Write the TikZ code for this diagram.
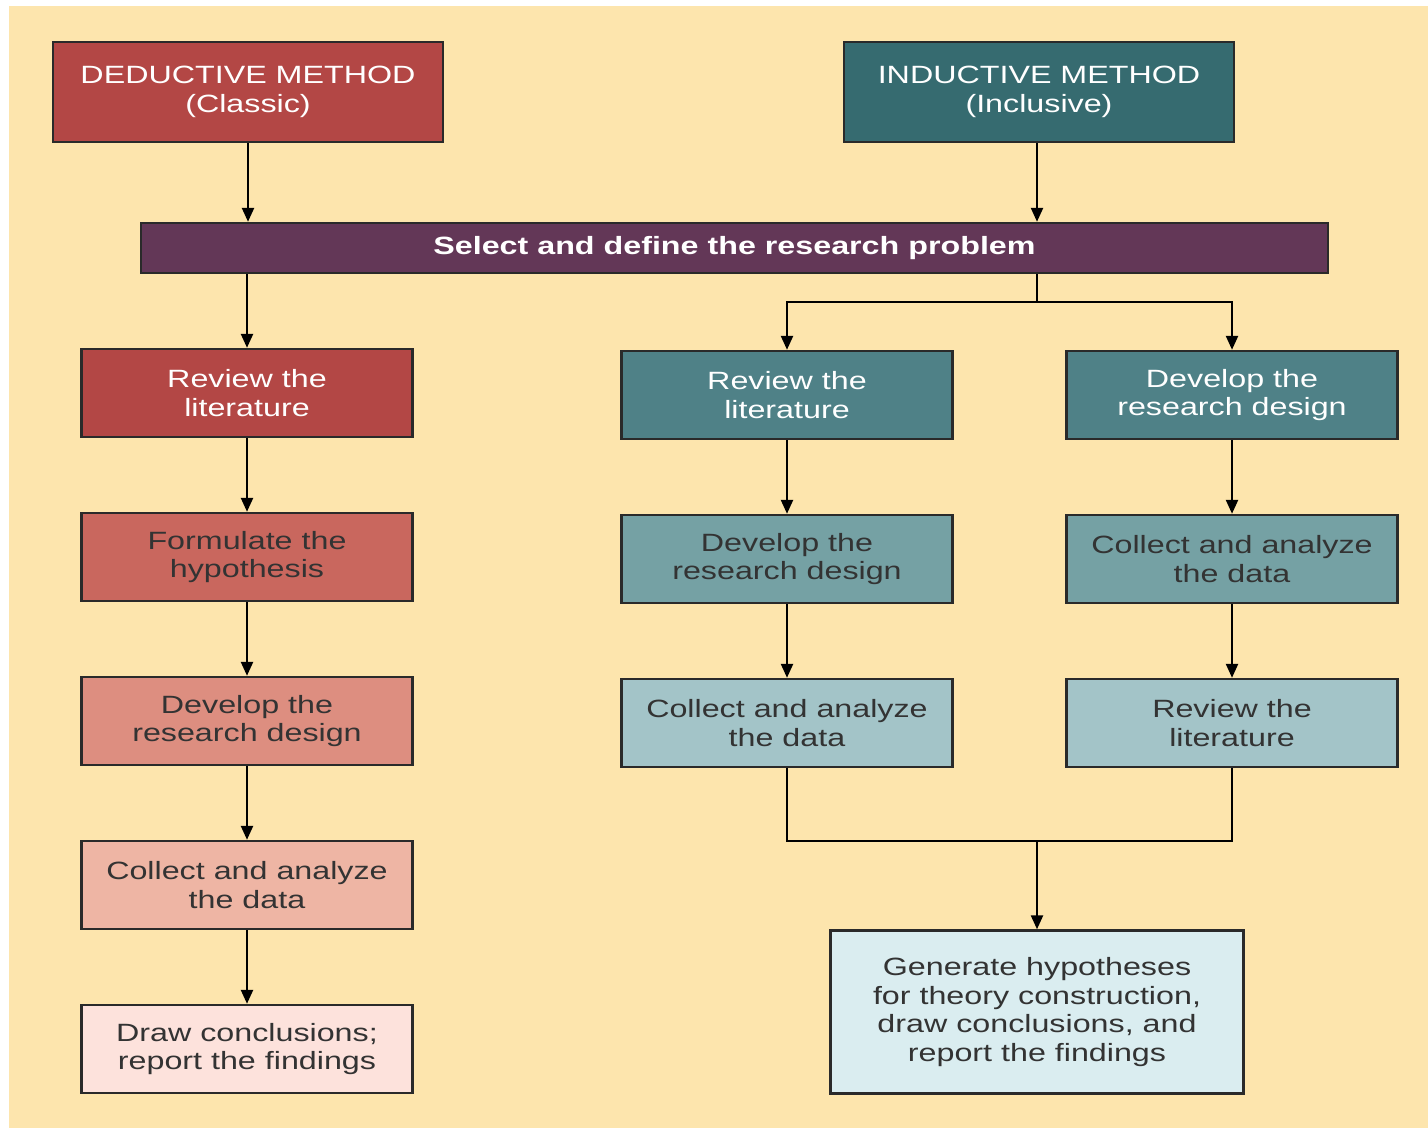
\documentclass[tikz,border=0pt]{standalone}
\usepackage{fontspec}
\setmainfont{Liberation Sans}[FakeStretch=1.29]
\usetikzlibrary{arrows.meta}

\definecolor{paper}{HTML}{FDE5AD}
\definecolor{boxline}{HTML}{2A2A2A}
\definecolor{darktext}{HTML}{333333}
\definecolor{problem}{HTML}{633757}
\definecolor{redA}{HTML}{B34745}
\definecolor{redB}{HTML}{C9675E}
\definecolor{redC}{HTML}{DD8E80}
\definecolor{redD}{HTML}{EEB5A4}
\definecolor{redE}{HTML}{FDE2DC}
\definecolor{tealA}{HTML}{366B70}
\definecolor{tealB}{HTML}{4F8187}
\definecolor{tealC}{HTML}{75A1A4}
\definecolor{tealD}{HTML}{A3C4C8}
\definecolor{tealE}{HTML}{DAEDF0}

\begin{document}
\begin{tikzpicture}[
		x=0.5pt,
		y=-0.5pt,
		every node/.style={
			shape=rectangle,
			draw=boxline,
			line width=1.2pt,
			align=center,
			inner sep=0pt,
			text=darktext,
			font=\fontsize{12.5}{14.4}\selectfont,
		},
		headbox/.style={minimum width=195pt, minimum height=50pt, text=white},
		stepbox/.style={minimum width=165.5pt, minimum height=44pt},
		link/.style={line width=1.2pt, draw=black, -{Triangle[length=7pt,width=6pt]}},
		wire/.style={line width=1.2pt, draw=black},
	]
		% page
		\fill[white] (0,0) rectangle (1428,1128);
		\fill[paper] (9,6) rectangle (1428,1128);

		% heads
		\node[headbox, fill=redA] (ded) at (248,92) {DEDUCTIVE METHOD\\(Classic)};
		\node[headbox, fill=tealA] (ind) at (1039,92) {INDUCTIVE METHOD\\(Inclusive)};
		\node[fill=problem, text=white, font=\fontsize{12.5}{14.4}\selectfont\bfseries,
			minimum width=593.5pt, minimum height=25pt] (sel) at (734.5,248)
			{Select and define the research problem};

		% deductive steps
		\node[stepbox, fill=redA, text=white] (d1) at (247,393) {Review the\\literature};
		\node[stepbox, fill=redB] (d2) at (247,557) {Formulate the\\hypothesis};
		\node[stepbox, fill=redC] (d3) at (247,721) {Develop the\\research design};
		\node[stepbox, fill=redD] (d4) at (247,885) {Collect and analyze\\the data};
		\node[stepbox, fill=redE] (d5) at (247,1049) {Draw conclusions;\\report the findings};

		% inductive steps
		\node[stepbox, fill=tealB, text=white] (m1) at (787,395) {Review the\\literature};
		\node[stepbox, fill=tealC] (m2) at (787,559) {Develop the\\research design};
		\node[stepbox, fill=tealD] (m3) at (787,723) {Collect and analyze\\the data};
		\node[stepbox, fill=tealB, text=white] (r1) at (1232,395) {Develop the\\research design};
		\node[stepbox, fill=tealC] (r2) at (1232,559) {Collect and analyze\\the data};
		\node[stepbox, fill=tealD] (r3) at (1232,723) {Review the\\literature};
		\node[fill=tealE, minimum width=206.5pt, minimum height=81.5pt] (fin) at (1037,1012)
			{Generate hypotheses\\for theory construction,\\draw conclusions, and\\report the findings};

		\coordinate (fork) at (1037,302);
		\coordinate (join) at (1037,841);

		% connectors
		\draw[link] (ded.south) -- (ded.south |- sel.north);
		\draw[link] (ind.south -| fork) -- (fork |- sel.north);
		\draw[link] (d1.north |- sel.south) -- (d1.north);
		\draw[link] (d1) -- (d2);
		\draw[link] (d2) -- (d3);
		\draw[link] (d3) -- (d4);
		\draw[link] (d4) -- (d5);
		\draw[wire] (fork |- sel.south) -- (fork);
		\draw[link] (fork) -| (m1.north);
		\draw[link] (fork) -| (r1.north);
		\draw[link] (m1) -- (m2);
		\draw[link] (m2) -- (m3);
		\draw[link] (r1) -- (r2);
		\draw[link] (r2) -- (r3);
		\draw[wire] (m3.south) |- (join) -| (r3.south);
		\draw[link] (join) -- (fin.north);
\end{tikzpicture}
\end{document}
